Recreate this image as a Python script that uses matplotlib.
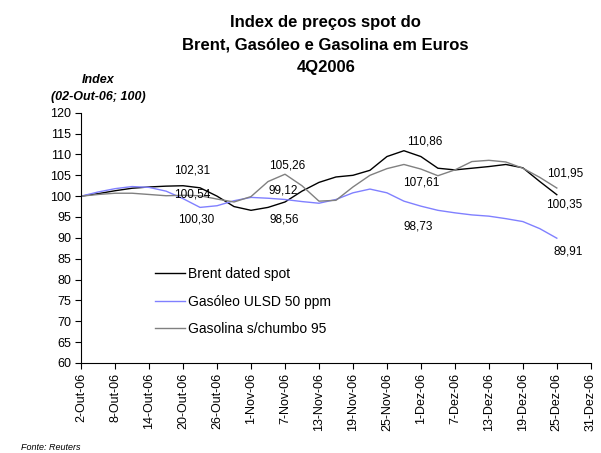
import matplotlib
matplotlib.use("Agg")
import matplotlib.pyplot as plt
import pandas as pd

plt.rcParams['font.family'] = ['Liberation Sans', 'DejaVu Sans']

# days since 2-Out-06
days = [0, 3, 6, 9, 12, 15, 18, 21, 24, 27, 30, 33, 36, 39, 42,
        45, 48, 51, 54, 57, 60, 63, 66, 69, 72, 75, 78, 81, 84]

brent = [100, 100.6, 101.3, 101.9, 102.2, 102.4, 102.5, 102.0, 100.0, 97.5,
         96.6, 97.3, 98.6, 101.2, 103.3, 104.6, 105.0, 106.2, 109.5, 110.9,
         109.5, 106.7, 106.3, 106.7, 107.1, 107.6, 106.8, 103.5, 100.35]

gasoleo = [100, 101.0, 101.8, 102.3, 102.1, 101.2, 99.4, 97.3, 97.7, 98.9,
           99.7, 99.5, 99.2, 98.7, 98.3, 99.2, 100.8, 101.7, 100.8, 98.8,
           97.6, 96.6, 96.0, 95.5, 95.2, 94.6, 93.9, 92.2, 89.91]

gasolina = [100, 100.4, 100.7, 100.7, 100.4, 100.1, 100.2, 100.1, 99.3, 98.6,
            99.9, 103.5, 105.26, 102.5, 98.8, 99.0, 102.2, 105.0, 106.6, 107.6,
            106.5, 104.9, 106.3, 108.3, 108.6, 108.2, 106.7, 104.5, 101.95]

tick_labels = ['2-Out-06', '8-Out-06', '14-Out-06', '20-Out-06', '26-Out-06',
               '1-Nov-06', '7-Nov-06', '13-Nov-06', '19-Nov-06', '25-Nov-06',
               '1-Dez-06', '7-Dez-06', '13-Dez-06', '19-Dez-06', '25-Dez-06',
               '31-Dez-06']

# value labels: (text, day, value position)
value_labels = [('102,31', 19.6, 106.1), ('100,54', 19.6, 100.5), ('100,30', 20.3, 94.5),
                ('105,26', 36.4, 107.3), ('99,12', 35.7, 101.3), ('98,56', 35.8, 94.3),
                ('110,86', 60.7, 113.0), ('107,61', 60.0, 103.2), ('98,73', 59.6, 92.8),
                ('101,95', 85.5, 105.4), ('100,35', 85.3, 98.1), ('89,91', 86.0, 86.8)]

start = pd.Timestamp('2006-10-02')
dates = [start + pd.Timedelta(days=d) for d in days]
ticks = pd.date_range('2006-10-02', '2006-12-31', freq='6D')

fig = plt.figure(figsize=(6.01, 4.53), dpi=100)
ax = fig.add_axes([0.135, 0.199, 0.848, 0.552])

ax.plot(dates, brent, color='black', lw=1.0, label='Brent dated spot')
ax.plot(dates, gasoleo, color='#8080ff', lw=1.0, label='Gasóleo ULSD 50 ppm')
ax.plot(dates, gasolina, color='#808080', lw=1.0, label='Gasolina s/chumbo 95')

for txt, d, v in value_labels:
    ax.text(start + pd.Timedelta(days=d), v, txt, fontsize=8.5, ha='center', va='center')

ax.set_xlim(ticks[0], ticks[-1])
ax.set_ylim(60, 120)
ax.set_yticks(range(60, 121, 5))
ax.set_xticks(ticks)
ax.set_xticklabels(tick_labels, rotation=90, fontsize=9)
ax.tick_params(axis='y', labelsize=9, length=4, width=0.8, pad=3)
ax.tick_params(axis='x', length=4, width=0.8, pad=3)
ax.spines['top'].set_visible(False)
ax.spines['right'].set_visible(False)

ax.legend(loc='upper left', bbox_to_anchor=(0.12, 0.432), frameon=False, fontsize=10,
          handlelength=2.15, labelspacing=0.95, handletextpad=0.25)

fig.text(0.542, 0.951, 'Index de preços spot do', fontsize=12, fontweight='bold',
         ha='center', va='center')
fig.text(0.542, 0.901, 'Brent, Gasóleo e Gasolina em Euros', fontsize=12, fontweight='bold',
         ha='center', va='center')
fig.text(0.542, 0.850, '4Q2006', fontsize=12, fontweight='bold', ha='center', va='center')
fig.text(0.163, 0.823, 'Index', fontsize=9, fontweight='bold', style='italic',
         ha='center', va='center')
fig.text(0.163, 0.786, '(02-Out-06; 100)', fontsize=9, fontweight='bold', style='italic',
         ha='center', va='center')
fig.text(0.035, 0.012, 'Fonte: Reuters', fontsize=6.5, style='italic', ha='left', va='center')

fig.savefig('out.png', dpi=100)
